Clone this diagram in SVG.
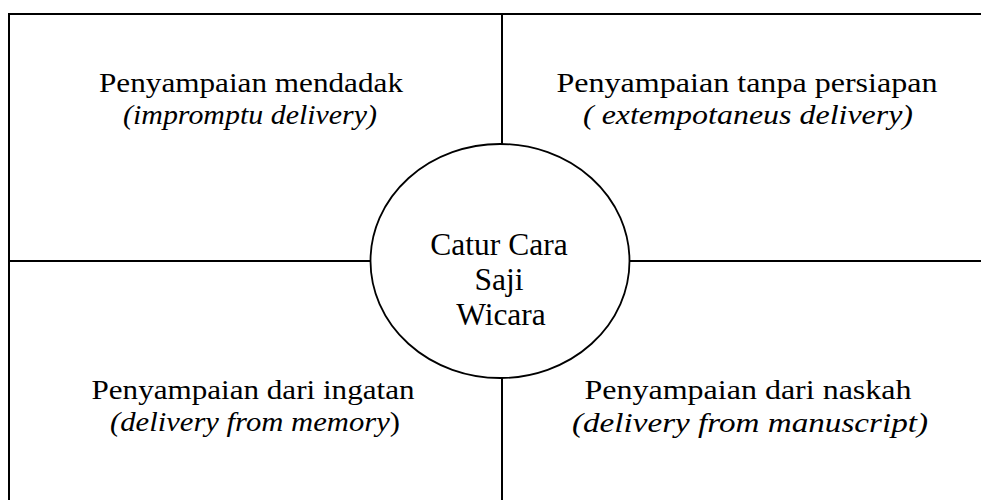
<svg xmlns="http://www.w3.org/2000/svg" width="981" height="500" viewBox="0 0 981 500">
<style>
.ln{stroke:#000;stroke-width:2;fill:none}
.t{font-family:"Liberation Serif","Times New Roman",serif;font-size:28px;fill:#000;text-anchor:middle}
.i{font-style:italic}
.c{font-family:"Liberation Serif","Times New Roman",serif;font-size:31.5px;fill:#000;text-anchor:middle}
</style>
<rect width="981" height="500" fill="#fff"/>
<g id="connectors">
<line class="ln" x1="9" y1="14" x2="981" y2="14"/>
<line class="ln" x1="9" y1="13" x2="9" y2="500"/>
<line class="ln" x1="502" y1="14" x2="502" y2="144"/>
<line class="ln" x1="502" y1="378" x2="502" y2="500"/>
<line class="ln" x1="9" y1="261" x2="370" y2="261"/>
<line class="ln" x1="629" y1="261" x2="981" y2="261"/>
</g>
<g id="center">
<ellipse cx="500" cy="261" rx="129.5" ry="117" fill="#fff" stroke="#000" stroke-width="1.8"/>
<text class="c" x="499" y="255">Catur Cara</text>
<text class="c" x="499" y="290">Saji</text>
<text class="c" x="501" y="325">Wicara</text>
</g>
<g id="top-left">
<text class="t" x="251" y="92" textLength="304" lengthAdjust="spacingAndGlyphs">Penyampaian mendadak</text>
<text class="t i" x="250" y="124" textLength="254" lengthAdjust="spacingAndGlyphs">(impromptu delivery)</text>
</g>
<g id="top-right">
<text class="t" x="747" y="92" textLength="381" lengthAdjust="spacingAndGlyphs">Penyampaian tanpa persiapan</text>
<text class="t i" x="748" y="124" textLength="330" lengthAdjust="spacingAndGlyphs">( extempotaneus delivery)</text>
</g>
<g id="bottom-left">
<text class="t" x="253" y="399" textLength="323" lengthAdjust="spacingAndGlyphs">Penyampaian dari ingatan</text>
<text class="t" x="255" y="431" textLength="290" lengthAdjust="spacingAndGlyphs"><tspan class="i">(delivery from memory</tspan>)</text>
</g>
<g id="bottom-right">
<text class="t" x="748" y="399" textLength="327" lengthAdjust="spacingAndGlyphs">Penyampaian dari naskah</text>
<text class="t i" x="750" y="432" textLength="356" lengthAdjust="spacingAndGlyphs">(delivery from manuscript)</text>
</g>
</svg>
